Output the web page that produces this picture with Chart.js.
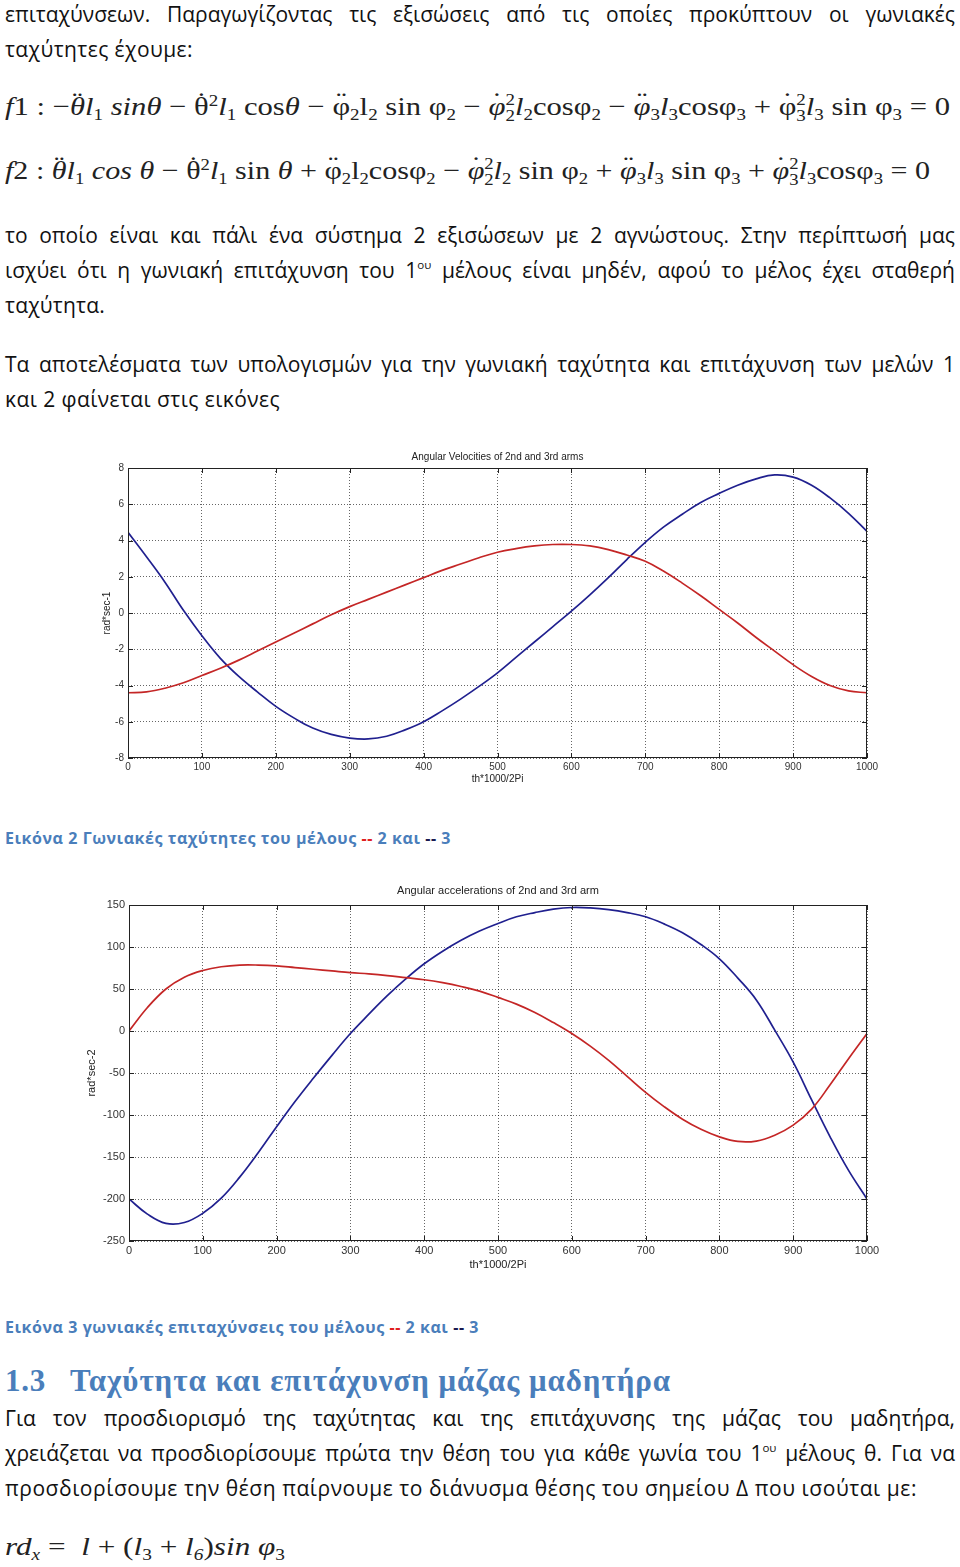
<!DOCTYPE html>
<html>
<head>
<meta charset="utf-8">
<script src="https://cdn.jsdelivr.net/npm/chart.js@4.4.1/dist/chart.umd.min.js"></script>
<style>
  html,body{margin:0;padding:0;background:#fff;}
  body{width:960px;height:1567px;position:relative;overflow:hidden;}
  .ln{position:absolute;left:5px;white-space:nowrap;height:35px;line-height:35px;
      font-family:"Open Sans","Noto Sans",sans-serif;font-size:21px;color:#111;}
  .ln sup{font-size:0.55em;vertical-align:0.75em;line-height:0;}
  .cap{position:absolute;left:5px;white-space:nowrap;height:24px;line-height:24px;
      font-family:"Open Sans","Noto Sans",sans-serif;font-weight:bold;font-size:16px;color:#4a7ebb;}
  .cap .r{color:#e02020;}
  .cap .k{color:#1a1a50;}
  .hd{position:absolute;white-space:nowrap;height:40px;line-height:40px;
      font-family:"Liberation Serif","DejaVu Serif",serif;font-weight:bold;font-size:31px;color:#4a7ebb;}
  .eq{position:absolute;left:5px;white-space:nowrap;height:40px;line-height:40px;
      font-family:"Liberation Serif","DejaVu Serif",serif;font-size:26px;color:#222;}
  .eq sub{font-size:0.62em;vertical-align:-0.3em;line-height:0;}
  .eq sup{font-size:0.62em;vertical-align:0.55em;line-height:0;}
  .eq .ss{display:inline-block;vertical-align:-0.35em;font-size:0.62em;line-height:0.95em;text-align:left;}
  .eq .ss span{display:block;}
  .eq .ac{position:relative;display:inline-block;line-height:1;}
  .eq .ac::before{content:attr(data-a);position:absolute;left:0;right:0;text-align:center;top:-0.2em;line-height:1;font-style:normal;}
  canvas{position:absolute;}
</style>
</head>
<body>

<div class="ln" style="top:-3.5px" data-r="955" data-j="1">επιταχύνσεων. Παραγωγίζοντας τις εξισώσεις από τις οποίες προκύπτουν οι γωνιακές</div>
<div class="ln" style="top:31.5px" data-r="193">ταχύτητες έχουμε:</div>

<div class="eq" style="top:87px" data-r="950" data-s="1"><i>f</i>1 : −<i class="ac" data-a="¨">θ</i><i>l</i><sub>1</sub> <i>sinθ</i> − <span class="ac" data-a="˙">θ</span><sup>2</sup><i>l</i><sub>1</sub> cos<i>θ</i> − <span class="ac" data-a="¨">φ</span><sub>2</sub>l<sub>2</sub> sin φ<sub>2</sub> − <i class="ac" data-a="˙">φ</i><span class="ss"><span>2</span><span>2</span></span><i>l</i><sub>2</sub>cosφ<sub>2</sub> − <i class="ac" data-a="¨">φ</i><sub>3</sub><i>l</i><sub>3</sub>cosφ<sub>3</sub> + <span class="ac" data-a="˙">φ</span><span class="ss"><span>2</span><span>3</span></span><i>l</i><sub>3</sub> sin φ<sub>3</sub> = 0</div>
<div class="eq" style="top:151px" data-r="930" data-s="1"><i>f</i>2 : <i class="ac" data-a="¨">θ</i><i>l</i><sub>1</sub> <i>cos θ</i> − <span class="ac" data-a="˙">θ</span><sup>2</sup><i>l</i><sub>1</sub> sin <i>θ</i> + <span class="ac" data-a="¨">φ</span><sub>2</sub>l<sub>2</sub>cosφ<sub>2</sub> − <i class="ac" data-a="˙">φ</i><span class="ss"><span>2</span><span>2</span></span><i>l</i><sub>2</sub> sin φ<sub>2</sub> + <i class="ac" data-a="¨">φ</i><sub>3</sub><i>l</i><sub>3</sub> sin φ<sub>3</sub> + <i class="ac" data-a="˙">φ</i><span class="ss"><span>2</span><span>3</span></span><i>l</i><sub>3</sub>cosφ<sub>3</sub> = 0</div>

<div class="ln" style="top:217.5px" data-r="955" data-j="1">το οποίο είναι και πάλι ένα σύστημα 2 εξισώσεων με 2 αγνώστους. Στην περίπτωσή μας</div>
<div class="ln" style="top:252.5px" data-r="955" data-j="1">ισχύει ότι η γωνιακή επιτάχυνση του 1<sup>ου</sup> μέλους είναι μηδέν, αφού το μέλος έχει σταθερή</div>
<div class="ln" style="top:287.5px" data-r="105">ταχύτητα.</div>

<div class="ln" style="top:346.5px" data-r="955" data-j="1">Τα αποτελέσματα των υπολογισμών για την γωνιακή ταχύτητα και επιτάχυνση των μελών 1</div>
<div class="ln" style="top:381.5px" data-r="280">και 2 φαίνεται στις εικόνες</div>

<canvas id="c1" width="820" height="350" style="left:80px;top:440px;width:820px;height:350px"></canvas>

<div class="cap" style="top:826px" data-r="451">Εικόνα 2 Γωνιακές ταχύτητες του μέλους <span class="r">--</span> 2 και <span class="k">--</span> 3</div>

<canvas id="c2" width="840" height="400" style="left:60px;top:875px;width:840px;height:400px"></canvas>

<div class="cap" style="top:1315px" data-r="479">Εικόνα 3 γωνιακές επιταχύνσεις του μέλους <span class="r">--</span> 2 και <span class="k">--</span> 3</div>

<div class="hd" style="left:5px;top:1361px" data-r="46">1.3</div>
<div class="hd" style="left:70px;top:1361px" data-r="671">Ταχύτητα και επιτάχυνση μάζας μαδητήρα</div>

<div class="ln" style="top:1400.5px" data-r="955" data-j="1">Για τον προσδιορισμό της ταχύτητας και της επιτάχυνσης της μάζας του μαδητήρα,</div>
<div class="ln" style="top:1435.5px" data-r="955" data-j="1">χρειάζεται να προσδιορίσουμε πρώτα την θέση του για κάθε γωνία του 1<sup>ου</sup> μέλους θ. Για να</div>
<div class="ln" style="top:1470.5px" data-r="917">προσδιορίσουμε την θέση παίρνουμε το διάνυσμα θέσης του σημείου Δ που ισούται με:</div>

<div class="eq" style="top:1527px" data-r="285" data-s="1"><i>rd<sub>x</sub></i> = &nbsp;<i>l</i> + (<i>l</i><sub>3</sub> + <i>l<sub>6</sub></i>)<i>sin φ</i><sub>3</sub></div>

<script>
// ---------- data ----------
const thX = [0,25,50,75,100,125,150,175,200,225,250,275,300,325,350,375,400,425,450,475,500,
             525,550,575,600,625,650,675,700,725,750,775,800,825,850,875,900,925,950,975,1000];

// Angular velocities (rad*sec-1)
const velArm2 = [-4.4,-4.35,-4.15,-3.85,-3.45,-3.05,-2.6,-2.1,-1.6,-1.1,-0.6,-0.1,0.35,0.75,1.15,1.55,1.95,2.35,2.7,3.05,3.35,
                 3.55,3.7,3.78,3.78,3.7,3.5,3.2,2.85,2.3,1.65,0.95,0.2,-0.55,-1.35,-2.1,-2.85,-3.5,-4.0,-4.3,-4.4];
const velArm3 = [4.45,3.1,1.7,0.15,-1.25,-2.5,-3.5,-4.35,-5.15,-5.8,-6.35,-6.7,-6.9,-6.95,-6.8,-6.45,-6.0,-5.4,-4.75,-4.05,-3.3,
                 -2.45,-1.6,-0.75,0.1,1.0,1.95,2.95,3.9,4.75,5.45,6.1,6.6,7.05,7.4,7.62,7.5,7.05,6.35,5.5,4.5];

// Angular accelerations (rad*sec-2)
const accArm2 = [0,28,50,64,72,76.5,78.5,78.5,77.5,75.5,73.5,71.5,69.5,68,66,63.5,61,57.5,53,47.5,40,
                 32,22,10,-3,-18,-35,-54,-73,-90,-105,-117,-126,-131.5,-131,-124,-112,-93,-64,-33,-3];
const accArm3 = [-200,-218,-229,-228,-217,-199,-174,-145,-114,-84,-56,-29,-3,20,42,62,80,95,108,119,128,
                 136,141,145,147,146.5,144.5,141,136,127.5,117,103,86,63,37,1,-37,-82,-126,-166,-200];

const velTicks = {min:-8, max:8, step:2};
const accTicks = {min:-250, max:150, step:50};
const xTicks = {min:0, max:1000, step:100};

const titles1 = {title:'Angular Velocities of 2nd and 3rd arms', y:'rad*sec-1', x:'th*1000/2Pi'};
const titles2 = {title:'Angular accelerations of 2nd and 3rd arm', y:'rad*sec-2', x:'th*1000/2Pi'};

// ---------- text fitting ----------
function fitText(){
  document.querySelectorAll('[data-r]').forEach(el=>{
    const left = el.offsetLeft;
    const target = parseFloat(el.dataset.r) - left;
    const w = el.getBoundingClientRect().width;
    if (el.dataset.j){
      const n = (el.textContent.match(/ /g)||[]).length;
      if (n>0) el.style.wordSpacing = ((target-w)/n)+'px';
    } else if (el.dataset.s){
      el.style.transformOrigin = '0 50%';
      el.style.transform = 'scaleX('+(target/w)+')';
    } else {
      const n = el.textContent.length;
      el.style.letterSpacing = ((target-w)/n)+'px';
    }
  });
}
fitText();

// ---------- charts ----------
const BLUE = '#20208f';
const RED = '#c42626';

function toXY(xs, ys){ return xs.map((x,i)=>({x:x, y:ys[i]})); }

function frame(t, o){
  return {
    id:'matlabFrame',
    afterDraw(chart){
      const ctx = chart.ctx, a = chart.chartArea;
      ctx.save();
      ctx.strokeStyle = '#222'; ctx.lineWidth = 1; ctx.setLineDash([]);
      ctx.strokeRect(Math.round(a.left)+0.5, Math.round(a.top)+0.5, Math.round(a.right-a.left)-1, Math.round(a.bottom-a.top)-1);
      const xs = chart.scales.x, ys = chart.scales.y;
      ctx.beginPath();
      xs.ticks.forEach(tk=>{
        const px = Math.round(xs.getPixelForValue(tk.value))+0.5;
        ctx.moveTo(px, a.bottom); ctx.lineTo(px, a.bottom-5);
        ctx.moveTo(px, a.top); ctx.lineTo(px, a.top+5);
      });
      ys.ticks.forEach(tk=>{
        const py = Math.round(ys.getPixelForValue(tk.value))+0.5;
        ctx.moveTo(a.left, py); ctx.lineTo(a.left+5, py);
        ctx.moveTo(a.right, py); ctx.lineTo(a.right-5, py);
      });
      ctx.stroke();
      ctx.fillStyle = '#222';
      ctx.font = o.tfs + 'px "Liberation Sans", Arial, sans-serif';
      ctx.textAlign = 'center'; ctx.textBaseline = 'middle';
      const cx = (a.left+a.right)/2;
      ctx.fillText(t.title, cx, a.top - o.tg);
      ctx.fillText(t.x, cx, a.bottom + o.xty);
      ctx.translate(o.ytx, (a.top+a.bottom)/2);
      ctx.rotate(-Math.PI/2);
      ctx.fillText(t.y, 0, 0);
      ctx.restore();
    }
  };
}

function makeChart(id, s1, s2, yt, t, o){
  const tickFont = {family:'"Liberation Sans", Arial, sans-serif', size:o.fs};
  return new Chart(document.getElementById(id), {
    type:'line',
    data:{datasets:[
      {label:'arm 2', data:toXY(thX, s1), borderColor:RED, borderWidth:1.7, pointRadius:0, tension:0.4, fill:false},
      {label:'arm 3', data:toXY(thX, s2), borderColor:BLUE, borderWidth:1.7, pointRadius:0, tension:0.4, fill:false}
    ]},
    options:{
      responsive:false, animation:false, devicePixelRatio:1,
      layout:{padding:{left:0, right:33, top:o.top, bottom:0}},
      plugins:{legend:{display:false}, tooltip:{enabled:false}, title:{display:false}},
      scales:{
        x:{type:'linear', min:xTicks.min, max:xTicks.max,
           ticks:{stepSize:xTicks.step, padding:3, color:'#333', maxRotation:0, font:tickFont,
                  callback:v=>String(v)},
           grid:{color:'rgba(0,0,0,0.6)', lineWidth:1, drawTicks:false},
           border:{display:false, dash:[1,2]},
           afterFit(s){ s.height = o.xh; }},
        y:{type:'linear', min:yt.min, max:yt.max,
           ticks:{stepSize:yt.step, padding:4, color:'#333', font:tickFont, callback:v=>String(v)},
           grid:{color:'rgba(0,0,0,0.6)', lineWidth:1, drawTicks:false},
           border:{display:false, dash:[1,2]},
           afterFit(s){ s.width = o.yw; }}
      }
    },
    plugins:[frame(t, o)]
  });
}

makeChart('c1', velArm2, velArm3, velTicks, titles1, {top:28, xh:32, yw:48, fs:10, tfs:10, tg:11, ytx:27, xty:21});
makeChart('c2', accArm2, accArm3, accTicks, titles2, {top:30, xh:34, yw:69, fs:11, tfs:11, tg:14, ytx:32, xty:24});
</script>
</body>
</html>
